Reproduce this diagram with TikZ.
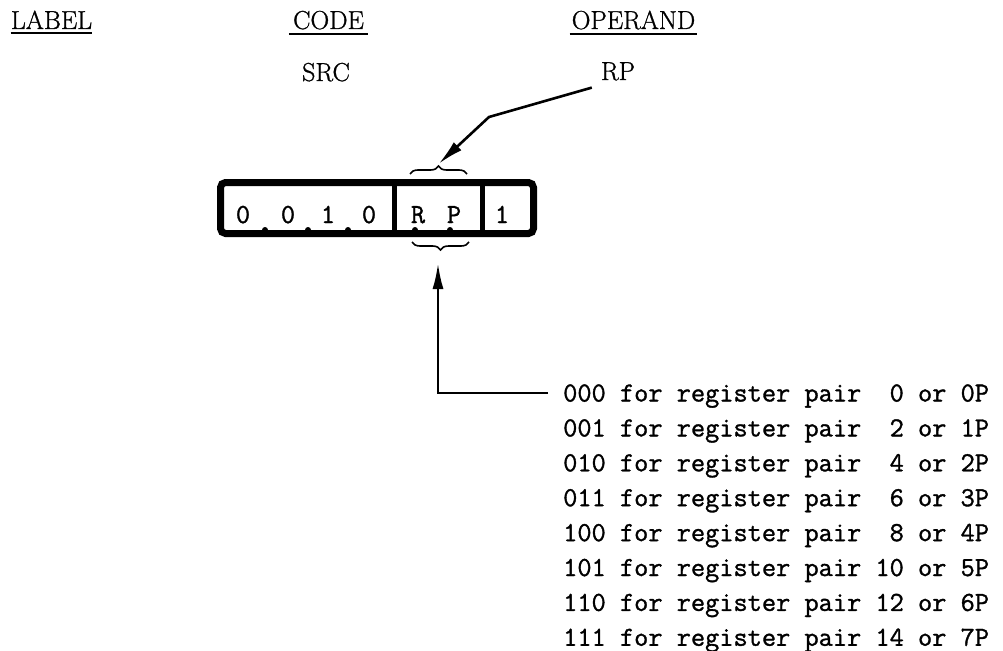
\documentclass[tikz,border=0pt]{standalone}
\usepackage{fontspec}
\newfontfamily\twfont{Latin Modern Mono}[FakeBold=1.2]
\newfontfamily\hdfont{Latin Modern Roman}[FakeBold=1.0]
\usetikzlibrary{arrows.meta,decorations.pathreplacing}
\begin{document}
\begin{tikzpicture}[x=1pt,y=-1pt,
  hdr/.style={font=\hdfont\fontsize{26}{26}\selectfont, inner sep=0pt, anchor=base},
  row/.style={font=\twfont\fontsize{27.56}{28}\selectfont, inner sep=0pt, anchor=base west},
  dig/.style={font=\twfont\fontsize{27.56}{28}\selectfont, inner sep=0pt, anchor=base},
  arr/.style={line width=2.6pt, -{Latex[length=26pt,width=11pt]}},
  brc/.style={line width=1.6pt, decorate, decoration={brace, amplitude=8pt}},
  uline/.style={line width=1.4pt}]
\useasboundingbox (0,0) rectangle (1003,650);

% headers
\node[hdr] (lab) at (51.5,29) {LABEL};
\node[hdr] (code) at (328.5,29) {CODE};
\node[hdr] (oper) at (633.5,29) {OPERAND};
\draw[uline] ([yshift=-4pt]lab.base west) -- ([yshift=-4pt]lab.base east);
\draw[line width=2.6pt] ([yshift=-5pt,xshift=-4pt]code.base west) -- ([yshift=-5pt,xshift=4pt]code.base east);
\draw[line width=2.6pt] ([yshift=-5pt,xshift=-2pt]oper.base west) -- ([yshift=-5pt,xshift=2pt]oper.base east);

\node[hdr] (src) at (326,81) {SRC};
\node[hdr] (rp) at (618,80) {RP};

% instruction box
\node[draw, line width=7pt, rounded corners=5pt, minimum width=313pt, minimum height=51pt, inner sep=0pt] (box) at (377,208) {};
\draw[line width=5pt] (394.5,183) -- (394.5,233);
\draw[line width=5pt] (482.5,183) -- (482.5,233);

\node[dig] (b0) at (243,223) {0};
\node[dig] (b1) at (288,223) {0};
\node[dig] (b2) at (328,223) {1};
\node[dig] (b3) at (369,223) {0};
\node[dig] (br) at (418,223) {R};
\node[dig] (bp) at (454,223) {P};
\node[dig] (b6) at (502,223) {1};
\foreach \x in {265,308,348,415,450} \fill (\x,230) circle (3pt);

% braces
\draw[brc] (410,174) -- (467,174);
\coordinate (toptip) at (438.5,164);
\draw[brc] (469,242) -- (412,242);
\coordinate (bottip) at (438,263);

% register pair list
\foreach \t [count=\i from 0] in {
  000 for register pair\ \ 0 or 0P,
  001 for register pair\ \ 2 or 1P,
  010 for register pair\ \ 4 or 2P,
  011 for register pair\ \ 6 or 3P,
  100 for register pair\ \ 8 or 4P,
  101 for register pair 10 or 5P,
  110 for register pair 12 or 6P,
  111 for register pair 14 or 7P}
  \node[row] (r\i) at (563,401.5+34.9*\i) {\t};

% connectors
\coordinate (kink) at (489,117);
\draw[arr] ([xshift=-9pt,yshift=-7pt]rp.south west) -- (kink) -- (toptip);
\coordinate (corner) at (438,393);
\draw[arr] ([xshift=-15pt,yshift=8.5pt]r0.base west) -- (corner) -- (bottip);
\end{tikzpicture}
\end{document}
